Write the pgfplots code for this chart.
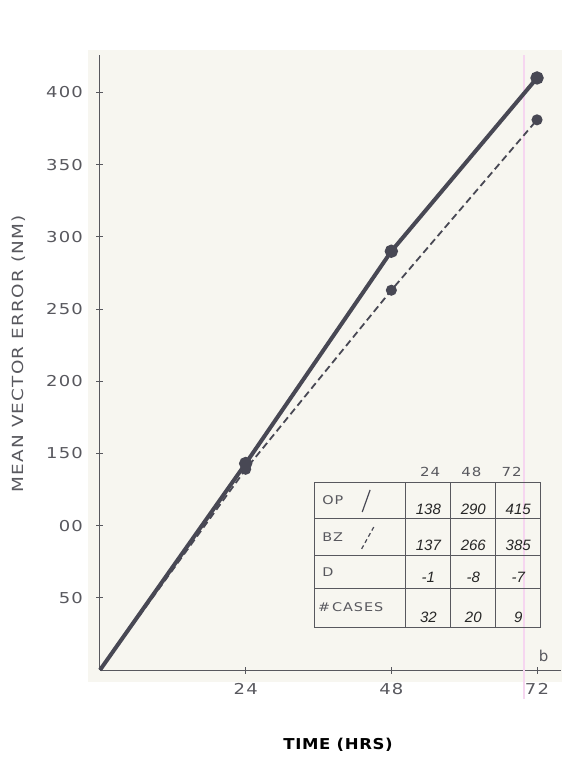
\documentclass[border=0pt]{standalone}
\usepackage{pgfplots}
\pgfplotsset{compat=1.18}
\usepackage{fontspec}
\setmainfont{DejaVu Sans}
\newfontfamily\lett[FakeStretch=1.2,LetterSpace=8]{DejaVu Sans}
\newfontfamily\lettb[FakeStretch=1.1,LetterSpace=4]{DejaVu Sans Bold}
\newfontfamily\hand{Liberation Sans Italic}

\definecolor{paper}{RGB}{247,246,240}
\definecolor{ink}{RGB}{72,72,84}
\definecolor{txt}{RGB}{88,88,94}
\definecolor{scanpink}{RGB}{246,214,240}

\begin{document}
\begin{tikzpicture}
\useasboundingbox (-100pt,-99pt) rectangle (462pt,670pt);
\fill[paper] (-12pt,-12pt) rectangle (462pt,620pt);
\begin{axis}[
  anchor=origin, at={(0,0)},
  x=6.07pt, y=1.444pt,
  xmin=0, xmax=76, ymin=0, ymax=426,
  axis x line=bottom, axis y line=left,
  axis line style={-, txt, line width=1pt},
  xtick={24,48,72}, xticklabels={24,48,72},
  ytick={50,100,...,400},
  yticklabels={50,00,150,200,250,300,350,400},
  tick align=center, major tick length=7pt,
  tick style={txt, line width=0.9pt},
  ticklabel style={font=\lett\fontsize{15}{15}\selectfont, text=txt},
  yticklabel style={xshift=-10pt},
  xticklabel style={yshift=-6pt},
  xlabel={TIME (HRS)},
  ylabel={MEAN VECTOR ERROR (NM)},
  xlabel style={at={(axis description cs:0.516,-0.122)}, anchor=center,
    font=\lettb\fontsize{15}{15}\selectfont, text=black},
  ylabel style={at={(axis description cs:-0.176,0.514)}, anchor=center,
    font=\lett\fontsize{15.3}{15.3}\selectfont, text=txt},
  clip=false,
]
% scan artefact
\draw[scanpink, line width=1.2pt] (axis cs:69.85,-20) -- (axis cs:69.85,426);

% OP (solid)
\addplot[ink, line width=4pt, mark=*, mark size=4.6pt, mark options={fill=ink},
  mark indices={2,3,4}]
  coordinates {(0,0) (24,143) (48,290) (72,410)};
% BZ (dashed)
\addplot[ink, line width=1.8pt, dash pattern=on 7pt off 4pt,
  mark=*, mark size=4.6pt, mark options={solid, fill=ink}, mark indices={2,3,4}]
  coordinates {(0,0) (24,139) (48,263) (72,381)};

% table
\draw[txt, line width=0.9pt] (axis cs:35.4,29.8) rectangle (axis cs:72.5,130);
\draw[txt, line width=0.9pt] (axis cs:35.4,105) -- (axis cs:72.5,105);
\draw[txt, line width=0.9pt] (axis cs:35.4,79.6) -- (axis cs:72.5,79.6);
\draw[txt, line width=0.9pt] (axis cs:35.4,56.8) -- (axis cs:72.5,56.8);
\draw[txt, line width=0.9pt] (axis cs:50.4,29.8) -- (axis cs:50.4,130);
\draw[txt, line width=0.9pt] (axis cs:57.8,29.8) -- (axis cs:57.8,130);
\draw[txt, line width=0.9pt] (axis cs:65.2,29.8) -- (axis cs:65.2,130);
\begin{scope}[every node/.style={font=\lett\fontsize{12.5}{12.5}\selectfont, text=txt, inner sep=0pt}]
\node at (axis cs:54.4,137) {24};
\node at (axis cs:61.2,137) {48};
\node at (axis cs:67.8,137) {72};
\end{scope}
\begin{scope}[every node/.style={font=\lett\fontsize{12}{12}\selectfont, text=txt, inner sep=0pt}]
\node[anchor=west] at (axis cs:36.6,117.7) {OP};
\node[anchor=west] at (axis cs:36.6,92) {BZ};
\node[anchor=west] at (axis cs:36.6,67.9) {D};
\node[anchor=west] at (axis cs:35.9,43.6) {\#\,CASES};
\end{scope}
\draw[ink, line width=1.2pt] (axis cs:44.5,124.7) -- (axis cs:43.2,109.4);
\draw[ink, line width=1.2pt, dash pattern=on 4pt off 3pt] (axis cs:45.1,99.0) -- (axis cs:43.0,83.1);
\begin{scope}[every node/.style={font=\hand\fontsize{15}{15}\selectfont, text=black!85, inner sep=0pt}]
\node at (axis cs:54.1,111.5) {138};
\node at (axis cs:61.5,111.5) {290};
\node at (axis cs:68.9,111.5) {415};
\node at (axis cs:54.1,86.6) {137};
\node at (axis cs:61.5,86.6) {266};
\node at (axis cs:68.9,86.6) {385};
\node at (axis cs:54.1,64.4) {-1};
\node at (axis cs:61.5,64.4) {-8};
\node at (axis cs:68.9,64.4) {-7};
\node at (axis cs:54.1,36.7) {32};
\node at (axis cs:61.5,36.7) {20};
\node at (axis cs:68.9,36.7) {9};
\end{scope}
\node[font=\fontsize{15}{15}\selectfont\rmfamily, text=txt] at (axis cs:73.1,10) {b};
\end{axis}
\end{tikzpicture}
\end{document}
